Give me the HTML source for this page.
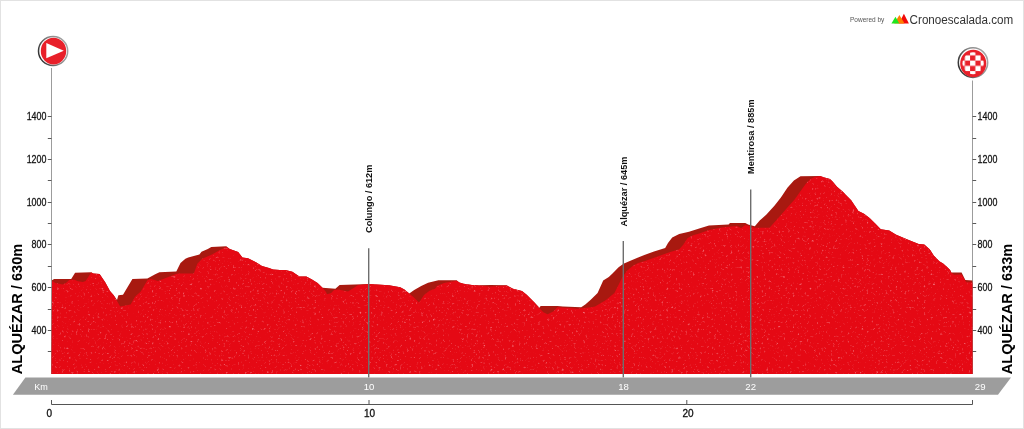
<!DOCTYPE html>
<html><head><meta charset="utf-8"><style>
html,body{margin:0;padding:0;background:#fff;}
body{width:1024px;height:429px;overflow:hidden;}
svg{display:block;will-change:transform;}
text{font-family:"Liberation Sans",sans-serif;}
.ax{font-size:10px;fill:#111;stroke:#111;stroke-width:0.25px;}
.km{font-size:9.6px;fill:#fff;}
.kb{font-size:10px;fill:#111;stroke:#111;stroke-width:0.3px;}
.lbl{font-size:9.2px;font-weight:bold;fill:#111;}
.big{font-size:14.6px;font-weight:bold;fill:#000;}
</style></head><body>
<svg width="1024" height="429" viewBox="0 0 1024 429">
<defs>
<pattern id="chk" x="970.1" y="60.6" width="10.5" height="10.5" patternUnits="userSpaceOnUse">
<rect width="10.5" height="10.5" fill="#e8202a"/>
<rect width="5.25" height="5.25" fill="#fff"/><rect x="5.25" y="5.25" width="5.25" height="5.25" fill="#fff"/>
</pattern>
<linearGradient id="ring" x1="0" y1="0.6" x2="1" y2="0.2">
<stop offset="0" stop-color="#333"/><stop offset="0.5" stop-color="#888"/><stop offset="1" stop-color="#a8a8a8"/>
</linearGradient>
<filter id="spk" x="0" y="0" width="100%" height="100%" color-interpolation-filters="sRGB">
<feTurbulence type="fractalNoise" baseFrequency="0.42" numOctaves="2" seed="7" result="n"/>
<feColorMatrix in="n" type="matrix" values="0 0 0 0 1  0 0 0 0 0.75  0 0 0 0 0.78  1.8 0 0 0 -1.12" result="dots"/>
<feGaussianBlur in="dots" stdDeviation="0.4" result="dotsb"/>
<feComposite in="dotsb" in2="SourceGraphic" operator="in" result="d2"/>
<feMerge><feMergeNode in="SourceGraphic"/><feMergeNode in="d2"/></feMerge>
</filter>
</defs>
<rect x="0.5" y="0.5" width="1023" height="428" fill="#fff" stroke="#e2e2e2" stroke-width="1"/>
<!-- axis poles -->
<line x1="51.5" y1="68" x2="51.5" y2="374" stroke="#9c9c9c" stroke-width="1"/>
<line x1="972.5" y1="80.5" x2="972.5" y2="374" stroke="#9c9c9c" stroke-width="1"/>
<line x1="47.8" y1="351.5" x2="51.5" y2="351.5" stroke="#5a5a5a" stroke-width="1"/>
<line x1="972.5" y1="351.5" x2="976.2" y2="351.5" stroke="#5a5a5a" stroke-width="1"/>
<line x1="47.8" y1="330.5" x2="51.5" y2="330.5" stroke="#5a5a5a" stroke-width="1"/>
<line x1="972.5" y1="330.5" x2="976.2" y2="330.5" stroke="#5a5a5a" stroke-width="1"/>
<text transform="translate(46.4,333.8) scale(0.89,1)" text-anchor="end" class="ax">400</text>
<text transform="translate(977.6,333.8) scale(0.89,1)" class="ax">400</text>
<line x1="47.8" y1="309.5" x2="51.5" y2="309.5" stroke="#5a5a5a" stroke-width="1"/>
<line x1="972.5" y1="309.5" x2="976.2" y2="309.5" stroke="#5a5a5a" stroke-width="1"/>
<line x1="47.8" y1="287.5" x2="51.5" y2="287.5" stroke="#5a5a5a" stroke-width="1"/>
<line x1="972.5" y1="287.5" x2="976.2" y2="287.5" stroke="#5a5a5a" stroke-width="1"/>
<text transform="translate(46.4,290.8) scale(0.89,1)" text-anchor="end" class="ax">600</text>
<text transform="translate(977.6,290.8) scale(0.89,1)" class="ax">600</text>
<line x1="47.8" y1="266.5" x2="51.5" y2="266.5" stroke="#5a5a5a" stroke-width="1"/>
<line x1="972.5" y1="266.5" x2="976.2" y2="266.5" stroke="#5a5a5a" stroke-width="1"/>
<line x1="47.8" y1="244.5" x2="51.5" y2="244.5" stroke="#5a5a5a" stroke-width="1"/>
<line x1="972.5" y1="244.5" x2="976.2" y2="244.5" stroke="#5a5a5a" stroke-width="1"/>
<text transform="translate(46.4,247.8) scale(0.89,1)" text-anchor="end" class="ax">800</text>
<text transform="translate(977.6,247.8) scale(0.89,1)" class="ax">800</text>
<line x1="47.8" y1="223.5" x2="51.5" y2="223.5" stroke="#5a5a5a" stroke-width="1"/>
<line x1="972.5" y1="223.5" x2="976.2" y2="223.5" stroke="#5a5a5a" stroke-width="1"/>
<line x1="47.8" y1="202.5" x2="51.5" y2="202.5" stroke="#5a5a5a" stroke-width="1"/>
<line x1="972.5" y1="202.5" x2="976.2" y2="202.5" stroke="#5a5a5a" stroke-width="1"/>
<text transform="translate(46.4,205.8) scale(0.89,1)" text-anchor="end" class="ax">1000</text>
<text transform="translate(977.6,205.8) scale(0.89,1)" class="ax">1000</text>
<line x1="47.8" y1="180.5" x2="51.5" y2="180.5" stroke="#5a5a5a" stroke-width="1"/>
<line x1="972.5" y1="180.5" x2="976.2" y2="180.5" stroke="#5a5a5a" stroke-width="1"/>
<line x1="47.8" y1="159.5" x2="51.5" y2="159.5" stroke="#5a5a5a" stroke-width="1"/>
<line x1="972.5" y1="159.5" x2="976.2" y2="159.5" stroke="#5a5a5a" stroke-width="1"/>
<text transform="translate(46.4,162.8) scale(0.89,1)" text-anchor="end" class="ax">1200</text>
<text transform="translate(977.6,162.8) scale(0.89,1)" class="ax">1200</text>
<line x1="47.8" y1="138.5" x2="51.5" y2="138.5" stroke="#5a5a5a" stroke-width="1"/>
<line x1="972.5" y1="138.5" x2="976.2" y2="138.5" stroke="#5a5a5a" stroke-width="1"/>
<line x1="47.8" y1="116.5" x2="51.5" y2="116.5" stroke="#5a5a5a" stroke-width="1"/>
<line x1="972.5" y1="116.5" x2="976.2" y2="116.5" stroke="#5a5a5a" stroke-width="1"/>
<text transform="translate(46.4,119.8) scale(0.89,1)" text-anchor="end" class="ax">1400</text>
<text transform="translate(977.6,119.8) scale(0.89,1)" class="ax">1400</text>
<!-- profile -->
<polygon points="51.5,374.0 52.0,280.2 54.1,279.1 71.2,279.1 75.1,272.8 91.2,272.3 93.3,273.5 99.6,274.0 105.2,282.3 110.0,291.0 113.7,295.2 117.0,300.0 118.4,295.2 123.0,294.8 132.4,278.9 147.4,278.4 155.2,274.3 159.4,272.2 176.3,271.6 180.5,263.0 185.4,258.8 188.2,257.4 199.4,254.6 201.5,251.8 207.8,249.0 211.3,246.9 226.3,246.3 229.8,249.1 238.2,251.9 242.4,257.5 248.0,258.2 256.4,262.4 262.0,265.9 269.0,268.0 273.1,269.4 280.0,270.0 285.4,270.0 292.4,271.7 299.4,276.6 306.4,276.6 312.0,279.4 317.6,282.9 322.5,287.8 335.4,288.7 339.6,284.9 355.0,284.5 369.0,284.0 389.0,285.2 400.2,287.3 404.4,289.4 409.3,293.6 414.2,290.0 421.2,285.9 428.1,282.7 438.4,280.3 456.6,280.3 459.4,282.4 463.6,283.8 472.0,284.9 479.0,285.2 490.6,284.9 506.7,285.3 513.0,288.8 522.0,290.9 527.0,295.0 534.0,302.0 539.5,307.7 540.6,305.9 557.4,305.9 563.0,306.6 581.2,307.3 585.3,304.5 591.0,299.6 597.6,293.1 603.2,280.6 608.8,277.1 613.0,272.9 618.6,267.3 623.5,263.8 629.8,261.0 638.1,257.5 645.0,254.7 654.0,251.4 665.2,247.9 668.0,243.0 672.2,237.4 679.2,233.9 689.0,231.8 700.0,228.3 709.0,225.5 728.6,224.5 730.0,223.1 745.3,223.1 748.1,224.5 754.8,226.2 759.7,220.5 766.2,214.8 774.4,205.8 780.9,197.6 787.4,187.8 793.9,180.5 800.5,176.3 820.2,176.0 824.4,177.6 830.0,179.0 832.8,181.8 837.0,186.7 842.6,191.6 846.7,195.8 851.0,200.0 854.2,204.7 858.4,211.0 864.0,213.8 869.6,218.0 875.2,223.6 880.8,229.2 889.2,230.6 896.2,234.8 904.5,238.3 909.3,240.3 918.7,244.0 924.3,244.6 929.9,249.6 933.7,255.6 939.3,261.2 943.1,263.5 946.3,266.3 950.1,270.1 951.3,272.5 961.6,272.5 965.3,280.0 972.4,280.4 972.5,374.0" fill="#a81910"/>
<polygon points="51.5,374.0 52.0,280.9 55.5,283.0 62.5,284.4 66.0,283.0 69.5,279.8 74.4,279.8 77.9,281.2 82.8,281.9 85.6,280.9 88.4,276.7 91.2,272.5 93.3,273.5 99.6,274.0 105.2,282.3 110.0,291.0 113.7,295.2 116.5,300.0 119.3,305.0 120.3,306.4 130.6,304.6 135.2,296.6 140.8,291.5 147.4,280.3 151.0,279.0 158.0,281.0 176.0,274.0 178.4,273.5 193.8,273.5 197.3,263.7 202.2,258.8 212.0,254.6 219.0,250.4 226.0,246.9 229.8,249.1 238.2,251.9 242.4,257.5 248.0,258.2 256.4,262.4 262.0,265.9 269.0,268.0 273.1,269.4 280.0,270.0 285.4,270.0 292.4,271.7 299.4,276.6 306.4,276.6 312.0,279.4 317.6,282.9 322.5,287.8 326.0,292.0 327.0,294.3 331.2,292.9 334.0,290.0 338.2,289.4 348.0,291.5 353.6,288.0 357.8,285.2 369.0,284.0 389.0,285.2 400.2,287.3 404.4,289.4 409.3,293.6 414.2,297.8 419.0,302.5 424.0,295.0 429.5,290.8 435.0,288.7 437.0,285.9 444.0,283.1 451.0,281.7 456.6,280.7 459.4,282.4 463.6,283.8 472.0,284.9 479.0,285.5 490.0,286.6 506.7,285.5 513.0,288.8 522.0,290.9 527.0,295.0 534.0,302.0 539.2,308.0 543.4,312.2 547.6,314.3 553.2,311.5 557.4,307.3 570.0,308.0 577.0,308.7 584.0,308.0 591.0,307.3 595.0,306.6 606.0,300.0 614.4,293.1 618.6,284.8 622.0,277.8 627.0,270.8 632.6,265.9 638.1,263.1 645.0,261.0 654.0,257.7 668.0,252.8 679.2,249.3 683.4,244.4 687.6,238.1 693.1,235.3 700.0,233.2 709.0,230.0 723.0,227.3 737.0,225.9 741.2,228.0 745.3,225.0 754.8,227.8 769.5,227.8 777.6,218.8 787.4,207.4 795.0,199.0 800.6,191.0 806.0,183.5 810.4,179.0 814.6,176.9 820.2,176.0 824.4,177.6 830.0,179.0 832.8,181.8 837.0,186.7 842.6,191.6 846.7,195.8 851.0,200.0 854.2,204.7 858.4,211.0 864.0,213.8 869.6,218.0 875.2,223.6 880.8,229.2 889.2,230.6 896.2,234.8 904.5,238.3 909.3,240.3 918.7,244.0 924.3,244.6 929.9,249.6 933.7,255.6 939.3,261.2 943.1,263.5 946.3,266.3 950.1,270.1 951.3,272.5 954.0,274.8 961.6,274.4 966.2,282.2 972.4,282.6 972.5,374.0" fill="#e50914" filter="url(#spk)"/>
<!-- markers -->
<line x1="368.7" y1="248.2" x2="368.7" y2="377.5" stroke="#6e6e6e" stroke-width="1.4"/>
<line x1="623.3" y1="241" x2="623.3" y2="377.5" stroke="#6e6e6e" stroke-width="1.4"/>
<line x1="750.7" y1="189.5" x2="750.7" y2="377.5" stroke="#6e6e6e" stroke-width="1.4"/>
<text transform="translate(372.2,233) rotate(-90)" class="lbl">Colungo / 612m</text>
<text transform="translate(627.3,226.5) rotate(-90)" class="lbl">Alquézar / 645m</text>
<text transform="translate(754.3,174) rotate(-90)" class="lbl">Mentirosa / 885m</text>
<!-- km bar -->
<polygon points="25.4,377.6 1011,377.6 998,394.7 12.9,394.7" fill="#9d9d9d"/>
<text x="34.3" y="389.6" class="km" style="font-size:9.1px">Km</text>
<text x="369" y="389.8" text-anchor="middle" class="km">10</text>
<text x="623.5" y="389.8" text-anchor="middle" class="km">18</text>
<text x="750.7" y="389.8" text-anchor="middle" class="km">22</text>
<text x="980.2" y="389.8" text-anchor="middle" class="km">29</text>
<!-- x axis -->
<path d="M51.5,400 V404.5 H972.5 V400" fill="none" stroke="#555" stroke-width="1"/>
<line x1="369" y1="400" x2="369" y2="404.5" stroke="#555" stroke-width="1"/>
<line x1="686.8" y1="400" x2="686.8" y2="404.5" stroke="#555" stroke-width="1"/>
<text x="49.4" y="416.8" text-anchor="middle" class="kb">0</text>
<text x="369.6" y="416.8" text-anchor="middle" class="kb">10</text>
<text x="688" y="416.8" text-anchor="middle" class="kb">20</text>
<!-- side labels -->
<text transform="translate(22.2,374.3) rotate(-90)" class="big">ALQUÉZAR / 630m</text>
<text transform="translate(1012.3,374.3) rotate(-90)" class="big">ALQUÉZAR / 633m</text>
<!-- start icon -->
<ellipse cx="53.1" cy="51.05" rx="14.6" ry="14.5" fill="none" stroke="url(#ring)" stroke-width="1.5"/>
<ellipse cx="53.5" cy="51.1" rx="12.7" ry="13.4" fill="#e8202a"/>
<polygon points="46.3,43.1 63.8,50.7 46.3,58.2" fill="#fff"/>
<!-- finish icon -->
<ellipse cx="973.0" cy="62.6" rx="14.7" ry="14.8" fill="none" stroke="url(#ring)" stroke-width="1.5"/>
<ellipse cx="973.25" cy="63.45" rx="13.05" ry="13.8" fill="#e8202a"/>
<ellipse cx="973.1" cy="63.3" rx="10.6" ry="11" fill="url(#chk)"/>
<!-- logo -->
<text x="850" y="21.8" style="font-size:6.5px;fill:#555;">Powered by</text>
<polygon points="898.9,23.6 903.9,13.7 908.9,23.6" fill="#f20a0a"/>
<polygon points="894.2,23.6 899.4,14.9 904.6,23.6" fill="#ff7f00"/>
<polygon points="891.4,23.6 895.5,16.7 899.3,23.6" fill="#1ee61e"/>
<text x="909.6" y="23.5" style="font-size:12.3px;fill:#333;" textLength="103.6" lengthAdjust="spacingAndGlyphs">Cronoescalada.com</text>
</svg>
</body></html>
